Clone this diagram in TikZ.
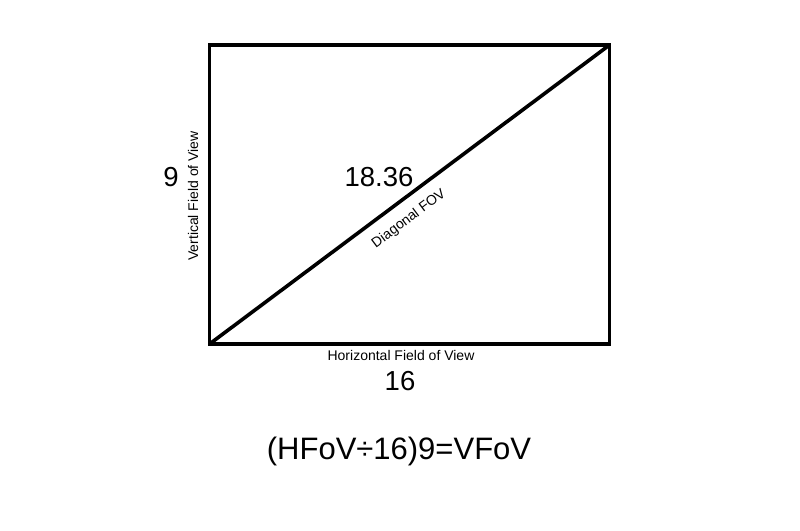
\documentclass[tikz,border=0pt]{standalone}
\usepackage{fontspec}
\setmainfont{Liberation Sans}
\begin{document}
\begin{tikzpicture}[x=1pt,y=-1pt,
  frame/.style={draw=black,line width=3.6pt},
  diag/.style={draw=black,line width=3.6pt},
  big/.style={font=\fontsize{27.5}{27.5}\selectfont,inner sep=0pt},
  small/.style={font=\fontsize{14}{14}\selectfont,inner sep=0pt},
  eq/.style={font=\fontsize{31}{31}\selectfont,inner sep=0pt}]
\useasboundingbox (0,0) rectangle (800,530);
\coordinate (tl) at (209.5,45);
\coordinate (br) at (609.5,344);
\coordinate (bl) at (209.5,344);
\coordinate (tr) at (609.5,45);
\draw[frame] (tl) rectangle (br);
\draw[diag] (bl) -- (tr);
\node[big] (nine) at (171,177) {9};
\node[small,rotate=90] (vfov) at (193,196) {Vertical Field of View};
\node[big] (diagval) at (379,177) {18.36};
\node[small,rotate=36.8] (dfov) at (409,219) {Diagonal FOV};
\node[small] (hfov) at (401,355) {Horizontal Field of View};
\node[big] (sixteen) at (400,381) {16};
\node[eq] (formula) at (399,451) {(HFoV÷16)9=VFoV};
\end{tikzpicture}
\end{document}
